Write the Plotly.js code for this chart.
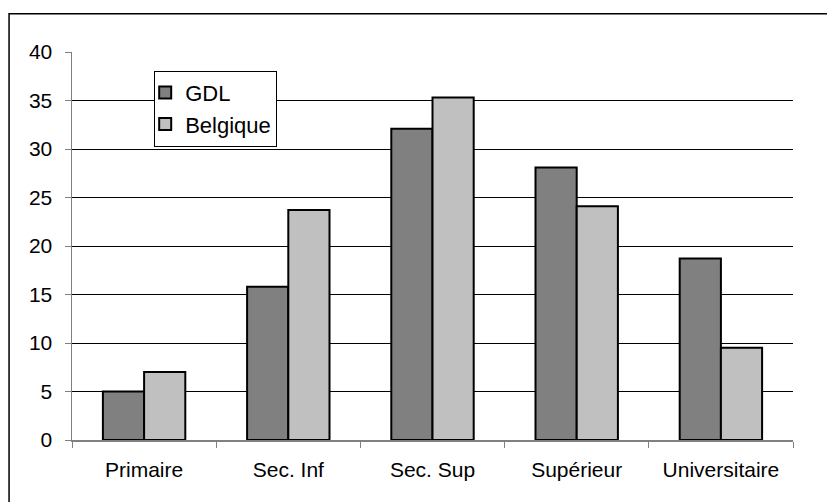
<!DOCTYPE html>
<html>
<head>
<meta charset="utf-8">
<script src="https://cdn.plot.ly/plotly-3.0.1.min.js"></script>
<style>
  html, body { margin: 0; padding: 0; background: #fff; }
  #chart { width: 827px; height: 502px; }
</style>
</head>
<body>
<div id="chart"></div>
<script>
// Niveau d'études : répartition en %
const categories = ["Primaire", "Sec. Inf", "Sec. Sup", "Supérieur", "Universitaire"];
const gdl = [5.0, 15.8, 32.1, 28.1, 18.7];
const belgique = [7.0, 23.7, 35.3, 24.1, 9.5];
const yTicks = [0, 5, 10, 15, 20, 25, 30, 35, 40];

const FONT = "Liberation Sans, Arial, sans-serif";

const traces = [
  {
    type: "bar", name: "GDL", x: categories, y: gdl,
    legendgroup: "g1",
    marker: { color: "#808080", line: { color: "#000", width: 2 } },
    hoverinfo: "x+y"
  },
  {
    type: "bar", name: "Belgique", x: categories, y: belgique,
    legendgroup: "g2",
    marker: { color: "#c0c0c0", line: { color: "#000", width: 2 } },
    hoverinfo: "x+y"
  }
];

const layout = {
  width: 827, height: 502,
  margin: { l: 71.5, r: 34, t: 52.3, b: 61.5 },
  paper_bgcolor: "#fff", plot_bgcolor: "#fff",
  font: { family: FONT, size: 21, color: "#000" },
  barmode: "group",
  bargap: 0.4286, bargroupgap: 0,
  showlegend: true,
  legend: {
    x: 0.114, y: 0.952, xanchor: "left", yanchor: "top",
    bgcolor: "#fff", bordercolor: "#000", borderwidth: 1,
    font: { family: FONT, size: 22, color: "#000" },
    itemwidth: 30, indentation: -10,
    tracegroupgap: 0, traceorder: "grouped"
  },
  xaxis: {
    type: "category",
    showgrid: false, zeroline: false,
    showline: true, linecolor: "#808080", linewidth: 1.5,
    ticks: "outside", tickson: "boundaries", ticklen: 6, tickcolor: "#808080", tickwidth: 1,
    ticklabelstandoff: 10,
    fixedrange: true
  },
  yaxis: {
    range: [0, 40], tickvals: yTicks,
    showgrid: true, gridcolor: "#000", gridwidth: 1,
    zeroline: false,
    showline: true, linecolor: "#808080", linewidth: 1.5,
    ticks: "outside", ticklen: 6, tickcolor: "#808080", tickwidth: 1,
    ticklabelstandoff: 8,
    fixedrange: true
  },
  shapes: [
    // outer frame of the chart area (left and top edges visible)
    { type: "rect", xref: "paper", yref: "paper",
      x0: -0.0873, x1: 1.5, y0: -0.5, y1: 1.0987,
      line: { color: "#000", width: 1.5 }, fillcolor: "rgba(0,0,0,0)", layer: "below" }
  ]
};

Plotly.newPlot("chart", traces, layout, { displayModeBar: false, staticPlot: true });
</script>
</body>
</html>
